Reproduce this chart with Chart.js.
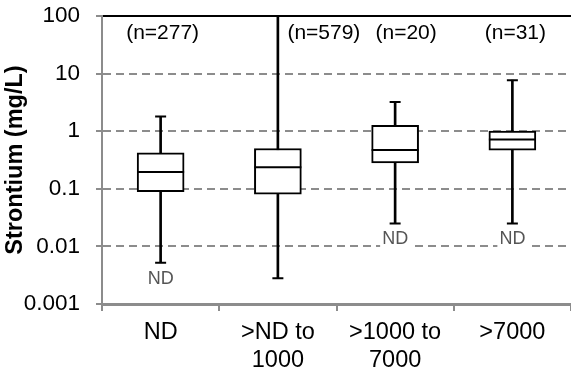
<!DOCTYPE html>
<html>
<head>
<meta charset="utf-8">
<script src="https://cdn.jsdelivr.net/npm/chart.js@4.4.1/dist/chart.umd.min.js"></script>
<style>
  html, body { margin: 0; padding: 0; background: #fff; }
</style>
</head>
<body>
<canvas id="boxChart" width="571" height="375"></canvas>
<script>
// Strontium by category - box plots on a log axis
const categories = [['ND'], ['>ND to', '1000'], ['>1000 to', '7000'], ['>7000']];
const sampleSizes = [277, 579, 20, 31];
const whiskerLow = [0.0052, 0.0028, 0.025, 0.025];
const quartileLow = [0.089, 0.081, 0.28, 0.47];
const medians = [0.195, 0.237, 0.47, 0.72];
const quartileHigh = [0.42, 0.5, 1.27, 1.0];
const whiskerHigh = [1.8, 100, 3.2, 7.7];
const lowIsND = [true, false, true, true];
const yTicks = [0.001, 0.01, 0.1, 1, 10, 100];

// horizontal nudge of the (n=...) labels, in px
const nLabelShift = [2, 46, 11, 3];

const FONT = '"Liberation Sans", Arial, sans-serif';
const GRID = '#8c8c8c';

const boxLabels = {
    id: 'boxLabels',
    afterDatasetsDraw(chart) {
        const { ctx, scales: { x, y } } = chart;
        ctx.save();
        ctx.textAlign = 'center';
        ctx.textBaseline = 'middle';

        // sample sizes along the top
        ctx.font = '21px ' + FONT;
        ctx.fillStyle = '#000';
        sampleSizes.forEach((n, i) => {
            ctx.fillText('(n=' + n + ')', x.getPixelForValue(i) + nLabelShift[i], y.top + 17);
        });

        // "ND" under the low whiskers
        ctx.font = '18px ' + FONT;
        lowIsND.forEach((nd, i) => {
            if (!nd) return;
            const cx = x.getPixelForValue(i);
            const cy = y.getPixelForValue(whiskerLow[i]) + 16;
            const w = ctx.measureText('ND').width;
            ctx.fillStyle = '#fff';
            ctx.fillRect(cx - w / 2 - 2, cy - 9, w + 4, 18);
            ctx.fillStyle = '#555';
            ctx.fillText('ND', cx, cy);
        });
        ctx.restore();
    }
};

new Chart(document.getElementById('boxChart'), {
    type: 'bar',
    data: {
        labels: categories,
        datasets: [
            {
                label: 'whisker',
                data: whiskerLow.map((v, i) => [v, whiskerHigh[i]]),
                backgroundColor: '#000',
                barThickness: 2,
                grouped: false,
                order: 3
            },
            {
                label: 'box',
                data: quartileLow.map((v, i) => [v, quartileHigh[i]]),
                backgroundColor: '#fff',
                borderColor: '#000',
                borderWidth: 2,
                borderSkipped: false,
                barThickness: 47,
                grouped: false,
                order: 2
            },
            {
                type: 'line',
                label: 'median',
                data: medians,
                showLine: false,
                pointStyle: 'line',
                pointRadius: 23.5,
                pointHoverRadius: 23.5,
                borderColor: '#000',
                pointBorderWidth: 2,
                order: 1
            },
            {
                type: 'line',
                label: 'low cap',
                data: whiskerLow,
                showLine: false,
                pointStyle: 'line',
                pointRadius: 5.5,
                borderColor: '#000',
                pointBorderWidth: 2,
                order: 1
            },
            {
                type: 'line',
                label: 'high cap',
                data: whiskerHigh,
                showLine: false,
                pointStyle: 'line',
                pointRadius: 5.5,
                borderColor: '#000',
                pointBorderWidth: 2,
                order: 1
            }
        ]
    },
    options: {
        responsive: false,
        animation: false,
        layout: { autoPadding: false, padding: { top: 16, right: 0, left: 0, bottom: 0 } },
        scales: {
            x: {
                type: 'category',
                offset: true,
                grid: {
                    offset: true,
                    drawOnChartArea: false,
                    tickLength: 7,
                    color: GRID,
                    lineWidth: 2
                },
                border: { color: GRID, width: 3 },
                ticks: {
                    color: '#000',
                    padding: 7,
                    maxRotation: 0,
                    autoSkip: false,
                    font: { family: FONT, size: 23.5, lineHeight: 1.2 }
                },
                afterFit: s => { s.height = 71; }
            },
            x2: {
                type: 'category',
                position: 'top',
                labels: categories,
                grid: { display: false },
                ticks: { display: false },
                border: { color: '#000', width: 2 },
                afterFit: s => { s.height = 0; }
            },
            y: {
                type: 'logarithmic',
                min: 0.001,
                max: 100,
                afterBuildTicks: s => { s.ticks = yTicks.map(v => ({ value: v })); },
                grid: {
                    color: c => (c.tick && (c.tick.value === 100 || c.tick.value === 0.001)) ? 'rgba(0,0,0,0)' : GRID,
                    tickColor: GRID,
                    tickLength: 6,
                    lineWidth: 2
                },
                border: { color: GRID, width: 2, dash: [8, 5] },
                ticks: {
                    color: '#000',
                    padding: 16,
                    font: { family: FONT, size: 22.5 },
                    callback: v => String(v)
                },
                title: {
                    display: true,
                    text: 'Strontium (mg/L)',
                    color: '#000',
                    font: { family: FONT, size: 23.5, weight: 'bold' },
                    padding: { top: 1, bottom: 0 }
                },
                afterFit: s => {
                    s.width = 102;
                    s.paddingTop = 0;
                    s.paddingBottom = 0;
                }
            }
        },
        plugins: {
            legend: { display: false },
            tooltip: { enabled: false }
        }
    },
    plugins: [boxLabels]
});
</script>
</body>
</html>
